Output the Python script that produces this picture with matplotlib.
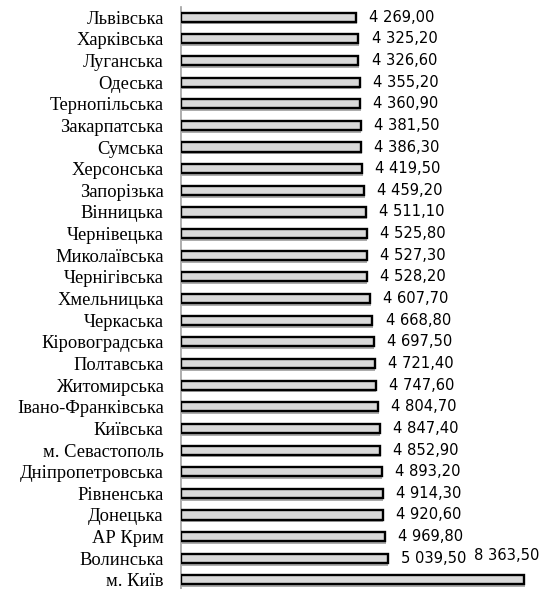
import matplotlib
matplotlib.use("Agg")
import matplotlib.pyplot as plt
import matplotlib.patheffects as pe

regions = ["Львівська", "Харківська", "Луганська", "Одеська", "Тернопільська",
           "Закарпатська", "Сумська", "Херсонська", "Запорізька", "Вінницька",
           "Чернівецька", "Миколаївська", "Чернігівська", "Хмельницька", "Черкаська",
           "Кіровоградська", "Полтавська", "Житомирська", "Івано-Франківська", "Київська",
           "м. Севастополь", "Дніпропетровська", "Рівненська", "Донецька", "АР Крим",
           "Волинська", "м. Київ"]
values = [4269.00, 4325.20, 4326.60, 4355.20, 4360.90, 4381.50, 4386.30, 4419.50,
          4459.20, 4511.10, 4525.80, 4527.30, 4528.20, 4607.70, 4668.80, 4697.50,
          4721.40, 4747.60, 4804.70, 4847.40, 4852.90, 4893.20, 4914.30, 4920.60,
          4969.80, 5039.50, 8363.50]

def fmt(v):
    s = f"{v:,.2f}"
    return s.replace(",", " ").replace(".", ",")

W, H = 543, 589
fig = plt.figure(figsize=(W / 100, H / 100), dpi=100)
ax = fig.add_axes([181 / W, 0, 1 - 181 / W, 1 - 7 / H])

n = len(values)
ypos = list(range(n))
bars = ax.barh(ypos, values, height=0.42, color="#d9d9d9", edgecolor="black",
               linewidth=1.7, zorder=3)
for b in bars:
    b.set_path_effects([pe.SimplePatchShadow(offset=(0.5, -2.0), shadow_rgbFace="#777777", alpha=0.6),
                        pe.Normal()])

ax.set_xlim(0, 8827)
ax.set_ylim(26.42, -0.47)

vfont = dict(family="DejaVu Sans", fontstretch="condensed", fontsize=11.8)
for i, v in enumerate(values[:-1]):
    ax.annotate(fmt(v), xy=(v, i), xytext=(9.5, 0), textcoords="offset points",
                ha="left", va="center", **vfont)
# label of the last bar sits beside the previous label, as in the original
ax.annotate(fmt(values[-1]), xy=(values[-2], n - 2), xytext=(62.5, 2), textcoords="offset points",
            ha="left", va="center", **vfont)

ax.set_yticks(ypos)
ax.set_yticklabels(regions, family=["Liberation Serif", "DejaVu Serif"], fontsize=13.3)
ax.tick_params(axis="y", length=0, pad=12.5)
ax.set_xticks([])
for s in ["top", "right", "bottom"]:
    ax.spines[s].set_visible(False)
ax.spines["left"].set_color("#a0a0a0")
ax.spines["left"].set_linewidth(1.2)

fig.savefig("out.png", dpi=100)
